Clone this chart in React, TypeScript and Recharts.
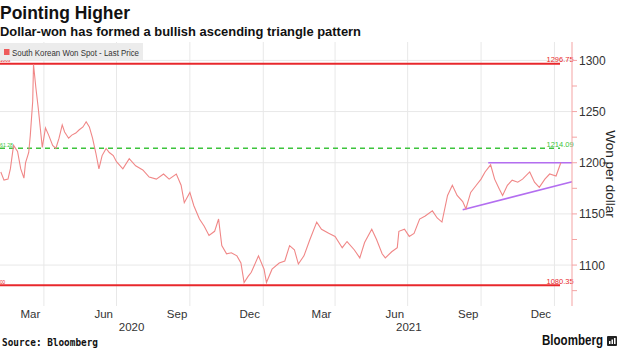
import React from "react";
import { ComposedChart, Line, XAxis, YAxis, CartesianGrid, ReferenceLine } from "recharts";

// ---------- data ----------
const seriesName = "South Korean Won Spot - Last Price";

const priceDates = [
  "2020-02-07", "2020-02-11", "2020-02-16", "2020-02-19", "2020-02-23", "2020-02-28",
  "2020-03-03", "2020-03-07", "2020-03-09", "2020-03-13", "2020-03-15", "2020-03-18",
  "2020-03-19", "2020-03-22", "2020-03-25", "2020-03-28", "2020-03-30", "2020-04-03",
  "2020-04-07", "2020-04-12", "2020-04-16", "2020-04-20", "2020-04-24", "2020-04-27",
  "2020-05-02", "2020-05-06", "2020-05-11", "2020-05-15", "2020-05-20", "2020-05-24",
  "2020-05-28", "2020-06-01", "2020-06-05", "2020-06-09", "2020-06-13", "2020-06-18",
  "2020-06-22", "2020-06-27", "2020-07-01", "2020-07-09", "2020-07-17", "2020-07-25",
  "2020-08-03", "2020-08-11", "2020-08-20", "2020-08-29", "2020-09-05", "2020-09-14",
  "2020-09-20", "2020-09-24", "2020-10-01", "2020-10-06", "2020-10-13", "2020-10-19",
  "2020-10-25", "2020-11-01", "2020-11-06", "2020-11-10", "2020-11-16", "2020-11-22",
  "2020-11-29", "2020-12-04", "2020-12-08", "2020-12-13", "2020-12-17", "2020-12-26",
  "2021-01-02", "2021-01-05", "2021-01-12", "2021-01-21", "2021-01-28", "2021-02-03",
  "2021-02-09", "2021-02-14", "2021-02-21", "2021-02-28", "2021-03-09", "2021-03-15",
  "2021-03-24", "2021-04-01", "2021-04-10", "2021-04-16", "2021-04-25", "2021-05-02",
  "2021-05-08", "2021-05-17", "2021-05-23", "2021-05-30", "2021-06-03", "2021-06-11",
  "2021-06-18", "2021-06-20", "2021-06-27", "2021-07-03", "2021-07-09", "2021-07-16",
  "2021-07-23", "2021-08-01", "2021-08-07", "2021-08-13", "2021-08-20", "2021-08-26",
  "2021-09-01", "2021-09-08", "2021-09-12", "2021-09-18", "2021-09-25", "2021-10-01",
  "2021-10-06", "2021-10-13", "2021-10-18", "2021-10-24", "2021-10-28", "2021-11-03",
  "2021-11-09", "2021-11-16", "2021-11-22", "2021-12-01", "2021-12-07", "2021-12-13",
  "2021-12-20", "2021-12-26", "2022-01-03", "2022-01-09",
];

const priceValues = [
  1191, 1183, 1184, 1194, 1217, 1211,
  1194, 1185, 1200, 1210, 1227, 1260,
  1296, 1273, 1253, 1230, 1215, 1234,
  1227, 1217, 1214, 1224, 1237, 1230,
  1224, 1227, 1229, 1232, 1235, 1240,
  1235, 1224, 1210, 1194, 1207, 1214,
  1210, 1207, 1201, 1194, 1204, 1197,
  1193, 1186, 1184, 1189, 1184, 1189,
  1178, 1161, 1171, 1158, 1145, 1138,
  1129, 1133, 1145, 1119, 1111, 1112,
  1109, 1102, 1083, 1089, 1093, 1109,
  1096, 1083, 1096, 1102, 1104, 1119,
  1115, 1101, 1109, 1124, 1142, 1135,
  1131, 1128, 1117, 1123, 1115, 1107,
  1122, 1135, 1125, 1111, 1107, 1113,
  1117, 1133, 1135, 1128, 1131, 1145,
  1148, 1153, 1146, 1142, 1168, 1178,
  1168, 1162, 1155, 1171, 1178, 1184,
  1191, 1198, 1184, 1174, 1168, 1178,
  1183, 1181, 1184, 1191, 1181, 1176,
  1184, 1189, 1187, 1200,
];

const monthTickDates = [
  "2020-03-15", "2020-06-15", "2020-09-15", "2020-12-15",
  "2021-03-15", "2021-06-15", "2021-09-15", "2021-12-15",
];
const monthTickLabels = ["Mar", "Jun", "Sep", "Dec", "Mar", "Jun", "Sep", "Dec"];
const monthGridDates = [
  "2020-04-01", "2020-07-01", "2020-10-01", "2021-01-01",
  "2021-04-01", "2021-07-01", "2021-10-01", "2022-01-01",
];
const yearLabels = [2020, 2021];
const xDomainDates = ["2020-02-06", "2022-01-23"];

const yDomain = [1060, 1318];
const yTicks = [1075, 1100, 1125, 1150, 1175, 1200, 1225, 1250, 1275, 1300];
const yGridValues = [1100, 1150, 1200, 1250, 1300];

// level lines
const levelValues = [1296.75, 1214.09, 1080.35];
const levelLabels = ["1296.75", "1214.09", "1080.35"];
const levelLeftLabels = ["1003", "61.28", "00"];
const levelColors = ["#e8282c", "#3cc43c", "#e8282c"];
const levelDashed = [false, true, false];
const levelStartDate = "2020-02-06";
const levelEndDate = "2022-01-08";

// triangle lines
const resistanceDates = ["2021-10-10", "2022-01-23"];
const resistanceValues = [1200, 1200];
const supportDates = ["2021-09-08", "2022-01-23"];
const supportValues = [1154, 1181.5];

// ---------- helpers ----------
const ts = (s: string) => Date.parse(s + "T00:00:00Z");
const rows = priceDates.map((d, i) => ({ t: ts(d), v: priceValues[i] }));
const xMin = ts(xDomainDates[0]);
const xMax = ts(xDomainDates[1]);
const monthTicks = monthTickDates.map(ts);
const monthGrid = monthGridDates.map(ts);
const yearTicks = yearLabels.map((y) => {
  const a = Math.max(Date.UTC(y, 0, 1), xMin);
  const b = Math.min(Date.UTC(y + 1, 0, 1), xMax);
  return (a + b) / 2;
});

const FONT = "'Liberation Sans', Arial, sans-serif";
const AXIS_COLOR = "#f4a3a3";

const monthFmt = (v: number) => {
  const i = monthTicks.indexOf(v);
  return i >= 0 ? monthTickLabels[i] : "";
};
const yearFmt = (v: number) => {
  const i = yearTicks.indexOf(v);
  return i >= 0 ? String(yearLabels[i]) : "";
};

const YTick = (props: any) => {
  const { x, y, payload } = props;
  if (payload.value % 50 !== 0) return <g />;
  return (
    <text x={x} y={y} dy={4.5} fontSize={12} fill="#333" fontFamily={FONT} textAnchor="start">
      {payload.value}
    </text>
  );
};

const LevelLabel = (props: any) => {
  const { viewBox, text, left, color } = props;
  if (!viewBox) return null;
  const x = viewBox.x;
  const y = viewBox.y;
  const w = viewBox.width || 0;
  return (
    <g>
      <text x={x + w} y={y - 1.5} fontSize={7.5} fill={color} fontFamily={FONT} textAnchor="middle">
        {text}
      </text>
      <text
        x={x}
        y={y - 1.5}
        fontSize={6}
        fill={color}
        fontFamily={FONT}
        textAnchor="start"
        textLength={left.length * 2.6}
        lengthAdjust="spacingAndGlyphs"
      >
        {left}
      </text>
    </g>
  );
};

export default function App() {
  return (
    <div
      style={{
        position: "absolute",
        left: 0,
        top: 0,
        width: 620,
        height: 348,
        background: "#fff",
        overflow: "hidden",
      }}
    >
      <ComposedChart
        width={620}
        height={348}
        data={rows}
        margin={{ top: 42, right: 0, bottom: 14, left: 0 }}
      >
        <CartesianGrid
          stroke="#e8e8e8"
          strokeWidth={1}
          verticalValues={monthGrid}
          horizontalValues={yGridValues}
        />
        <XAxis
          dataKey="t"
          type="number"
          domain={[xMin, xMax]}
          allowDataOverflow
          ticks={monthTicks}
          tickFormatter={monthFmt}
          axisLine={false}
          tickLine={false}
          tickSize={0}
          tickMargin={4}
          height={14}
          interval={0}
          tick={{ fontSize: 11.5, fill: "#333", fontFamily: FONT }}
        />
        <XAxis
          xAxisId="year"
          dataKey="t"
          type="number"
          domain={[xMin, xMax]}
          allowDataOverflow
          ticks={yearTicks}
          tickFormatter={yearFmt}
          axisLine={false}
          tickLine={false}
          tickSize={0}
          tickMargin={3}
          height={14}
          interval={0}
          tick={{ fontSize: 11.5, fill: "#333", fontFamily: FONT }}
        />
        <YAxis
          orientation="right"
          type="number"
          domain={yDomain}
          allowDataOverflow
          ticks={yTicks}
          interval={0}
          width={48}
          axisLine={{ stroke: AXIS_COLOR }}
          tickLine={{ stroke: AXIS_COLOR }}
          tickSize={5}
          tickMargin={2}
          tick={<YTick />}
        />
        {levelValues.map((v, i) => (
          <ReferenceLine
            key={"lvl" + i}
            segment={[
              { x: ts(levelStartDate), y: v },
              { x: ts(levelEndDate), y: v },
            ]}
            stroke={levelColors[i]}
            strokeWidth={levelDashed[i] ? 1.5 : 2}
            strokeDasharray={levelDashed[i] ? "5 4" : undefined}
            label={<LevelLabel text={levelLabels[i]} left={levelLeftLabels[i]} color={levelColors[i]} />}
          />
        ))}
        <ReferenceLine
          segment={[
            { x: ts(resistanceDates[0]), y: resistanceValues[0] },
            { x: ts(resistanceDates[1]), y: resistanceValues[1] },
          ]}
          stroke="#b36ef0"
          strokeWidth={1.6}
        />
        <ReferenceLine
          segment={[
            { x: ts(supportDates[0]), y: supportValues[0] },
            { x: ts(supportDates[1]), y: supportValues[1] },
          ]}
          stroke="#b36ef0"
          strokeWidth={1.6}
        />
        <Line
          type="linear"
          dataKey="v"
          name={seriesName}
          stroke="#f08787"
          strokeWidth={1.1}
          dot={false}
          isAnimationActive={false}
        />
      </ComposedChart>

      <svg
        width={620}
        height={348}
        style={{ position: "absolute", left: 0, top: 0, pointerEvents: "none" }}
      >
        <text
          x={0}
          y={19}
          fontSize={19}
          fontWeight="bold"
          fill="#111"
          fontFamily={FONT}
          textLength={130}
          lengthAdjust="spacingAndGlyphs"
        >
          Pointing Higher
        </text>
        <text
          x={0}
          y={35.5}
          fontSize={13.5}
          fontWeight="bold"
          fill="#111"
          fontFamily={FONT}
          textLength={361}
          lengthAdjust="spacingAndGlyphs"
        >
          Dollar-won has formed a bullish ascending triangle pattern
        </text>

        <rect x={0} y={43} width={143} height={17} fill="#ececec" />
        <rect x={4} y={49} width={5.5} height={6} fill="#ee5b5b" />
        <text
          x={12}
          y={56}
          fontSize={8.5}
          fill="#333"
          fontFamily={FONT}
          textLength={127}
          lengthAdjust="spacingAndGlyphs"
        >
          {seriesName}
        </text>

        <text
          x={606}
          y={174}
          fontSize={13.5}
          fill="#222"
          fontFamily={FONT}
          textAnchor="middle"
          transform="rotate(90 606 174)"
        >
          Won per dollar
        </text>

        <text
          x={2}
          y={345.5}
          fontSize={10.5}
          fontWeight="bold"
          fill="#111"
          fontFamily="'DejaVu Sans Mono', monospace"
          textLength={96}
          lengthAdjust="spacingAndGlyphs"
        >
          Source:  Bloomberg
        </text>

        <text
          x={542}
          y={345}
          fontSize={14}
          fontWeight="bold"
          fill="#111"
          fontFamily={FONT}
          textLength={61}
          lengthAdjust="spacingAndGlyphs"
        >
          Bloomberg
        </text>
        <rect x={607} y={336} width={10} height={10} rx={1} fill="#222" />
        <rect x={609} y={341} width={1.5} height={3} fill="#fff" />
        <rect x={611.5} y={339.5} width={1.5} height={4.5} fill="#fff" />
        <rect x={614} y={338} width={1.5} height={6} fill="#fff" />
      </svg>
    </div>
  );
}
